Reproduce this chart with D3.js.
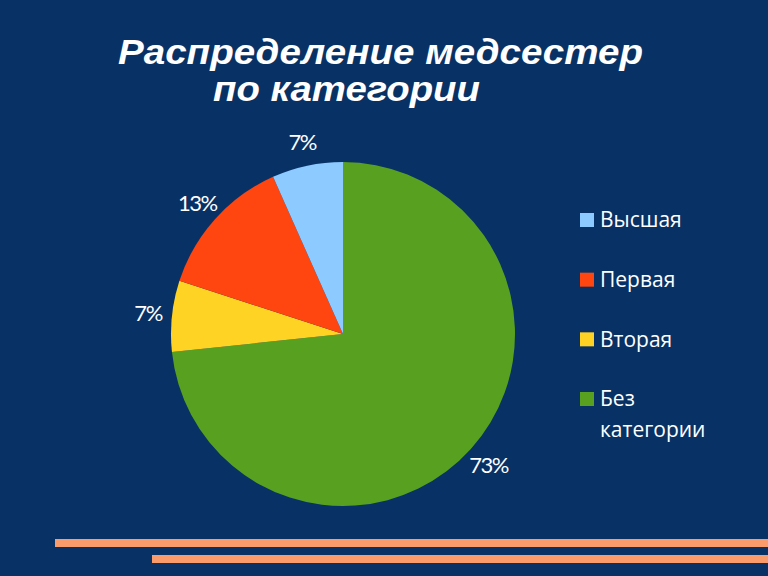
<!DOCTYPE html>
<html>
<head>
<meta charset="utf-8">
<script src="https://cdn.jsdelivr.net/npm/d3@7"></script>
<style>
  html, body { margin: 0; padding: 0; background: #083265; }
  svg { display: block; }
</style>
</head>
<body>
<div id="chart"></div>
<script>
// --- DATA ---
const categories = ["Без категории", "Вторая", "Первая", "Высшая"];
const counts = [11, 1, 2, 1];
const colors = ["#58a020", "#ffd324", "#ff4510", "#8ccaff"];
const legendOrder = ["Высшая", "Первая", "Вторая", "Без категории"];
const titleLines = ["Распределение медсестер", "по категории"];

const width = 768, height = 576;
const svg = d3.select("#chart").append("svg")
    .attr("width", width)
    .attr("height", height)
    .style("background-color", "#083265");

// --- TITLE ---
function titleText(x, y, len, txt) {
    svg.append("text")
        .attr("x", x).attr("y", y)
        .attr("fill", "#ffffff")
        .attr("font-family", "Liberation Sans, Arial, sans-serif")
        .attr("font-size", 35)
        .attr("font-weight", "bold")
        .attr("font-style", "italic")
        .attr("textLength", len)
        .attr("lengthAdjust", "spacingAndGlyphs")
        .text(txt);
}
titleText(118, 64, 525, titleLines[0]);
titleText(213, 101, 267, titleLines[1]);

// --- PIE ---
const cx = 343, cy = 334, radius = 172;
const total = d3.sum(counts);
const pie = d3.pie().sort(null).value(d => d.value);
const arcs = pie(categories.map((c, i) => ({ name: c, value: counts[i], color: colors[i] })));
const arc = d3.arc().innerRadius(0).outerRadius(radius);
const labelArc = d3.arc().innerRadius(196).outerRadius(196);

const g = svg.append("g").attr("transform", `translate(${cx},${cy})`);
g.selectAll("path")
    .data(arcs)
    .join("path")
    .attr("d", arc)
    .attr("fill", d => d.data.color);

g.selectAll("text.pct")
    .data(arcs)
    .join("text")
    .attr("class", "pct")
    .attr("transform", d => `translate(${labelArc.centroid(d)})`)
    .attr("text-anchor", "middle")
    .attr("dy", "0.35em")
    .attr("fill", "#ffffff")
    .attr("font-family", "Lato, Open Sans, sans-serif")
    .attr("font-size", 22)
    .attr("letter-spacing", -1.5)
    .text(d => Math.round(d.data.value / total * 100) + "%");

// --- LEGEND ---
const legendY = d3.scalePoint().domain(legendOrder).range([220, 399]);
const legend = svg.append("g")
    .selectAll("g")
    .data(legendOrder)
    .join("g")
    .attr("transform", d => `translate(580,${legendY(d)})`);

legend.append("rect")
    .attr("x", 0).attr("y", -7)
    .attr("width", 14).attr("height", 14)
    .attr("fill", d => colors[categories.indexOf(d)]);

legend.append("text")
    .attr("x", 20)
    .attr("fill", "#ffffff")
    .attr("font-family", "Open Sans, sans-serif")
    .attr("font-size", 21)
    .selectAll("tspan")
    .data(d => d.split(" "))
    .join("tspan")
    .attr("x", 20)
    .attr("dy", (d, i) => i === 0 ? "0.35em" : "1.45em")
    .text(d => d);

// --- DECORATIVE LINES ---
svg.append("rect").attr("x", 55).attr("y", 539).attr("width", width - 55).attr("height", 8).attr("fill", "#f99b6a");
svg.append("rect").attr("x", 152).attr("y", 555).attr("width", width - 152).attr("height", 8).attr("fill", "#f99b6a");
</script>
</body>
</html>
